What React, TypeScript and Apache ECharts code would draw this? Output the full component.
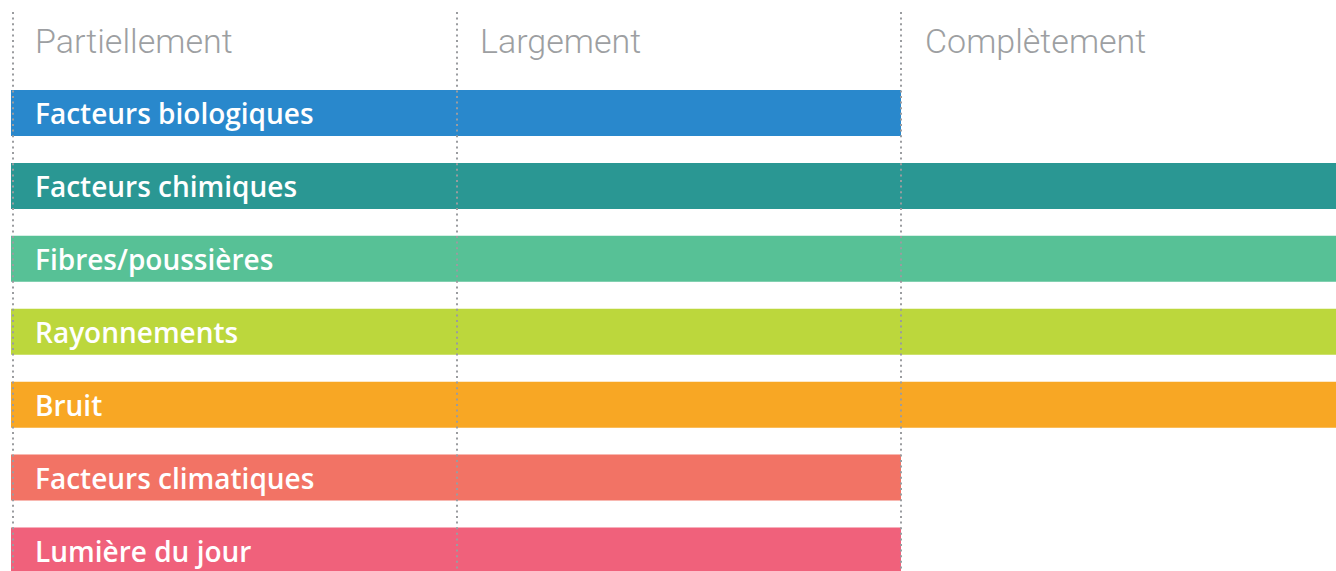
import React, { useEffect, useRef } from "react";
import * as echarts from "echarts";

const categories = [
  "Facteurs biologiques",
  "Facteurs chimiques",
  "Fibres/poussières",
  "Rayonnements",
  "Bruit",
  "Facteurs climatiques",
  "Lumière du jour",
];
const values = [2, 3, 3, 3, 3, 2, 2];
const colors = ["#2988CC", "#2A9793", "#57C196", "#BCD73C", "#F8A724", "#F27365", "#F0617B"];
const levelLabels = ["Partiellement", "Largement", "Complètement"];

export default function App() {
  const ref = useRef<HTMLDivElement>(null);
  useEffect(() => {
    const chart = echarts.init(ref.current!, null, { renderer: "svg" });
    chart.setOption({
      animation: false,
      grid: [
        { left: 11, width: 1335, top: 76.5, height: 510.5, containLabel: false, outerBoundsMode: "none" },
        { left: 12.5, width: 1332, top: 12, height: 559, containLabel: false, outerBoundsMode: "none" },
      ],
      xAxis: [
        {
          gridIndex: 0,
          type: "value",
          position: "top",
          min: 0,
          max: 3,
          interval: 1,
          axisLine: { show: false },
          axisTick: { show: false },
          splitLine: { show: false },
          axisLabel: {
            show: true,
            margin: 36,
            verticalAlign: "middle",
            align: "left",
            padding: [0, 0, 0, 24],
            color: "#9d9fa2",
            fontFamily: "Roboto",
            fontWeight: 300,
            fontSize: 34,
            formatter: (v: number) => levelLabels[v] ?? "",
          },
        },
        {
          gridIndex: 1,
          type: "value",
          position: "top",
          min: 0,
          max: 3,
          interval: 1,
          z: 10,
          axisLine: { show: false },
          axisTick: { show: false },
          axisLabel: { show: false },
          splitLine: {
            show: true,
            lineStyle: { color: "#9a9c9f", width: 2, type: [2, 3.6] },
          },
        },
      ],
      yAxis: [
        {
          gridIndex: 0,
          type: "category",
          data: categories,
          inverse: true,
          axisLine: { show: false },
          axisTick: { show: false },
          axisLabel: { show: false },
          splitLine: { show: false },
        },
        {
          gridIndex: 1,
          type: "value",
          show: false,
        },
      ],
      series: [
        {
          type: "bar",
          xAxisIndex: 0,
          yAxisIndex: 0,
          barWidth: 46,
          data: values.map((v, i) => ({ value: v, itemStyle: { color: colors[i] } })),
          label: {
            show: true,
            position: "insideLeft",
            distance: 24,
            formatter: "{b}",
            color: "#ffffff",
            fontFamily: "Open Sans",
            fontWeight: 600,
            fontSize: 28,
          },
        },
      ],
    });
    return () => chart.dispose();
  }, []);
  return (
    <div
      ref={ref}
      style={{ position: "absolute", left: 0, top: 0, width: 1336, height: 571 }}
    />
  );
}
